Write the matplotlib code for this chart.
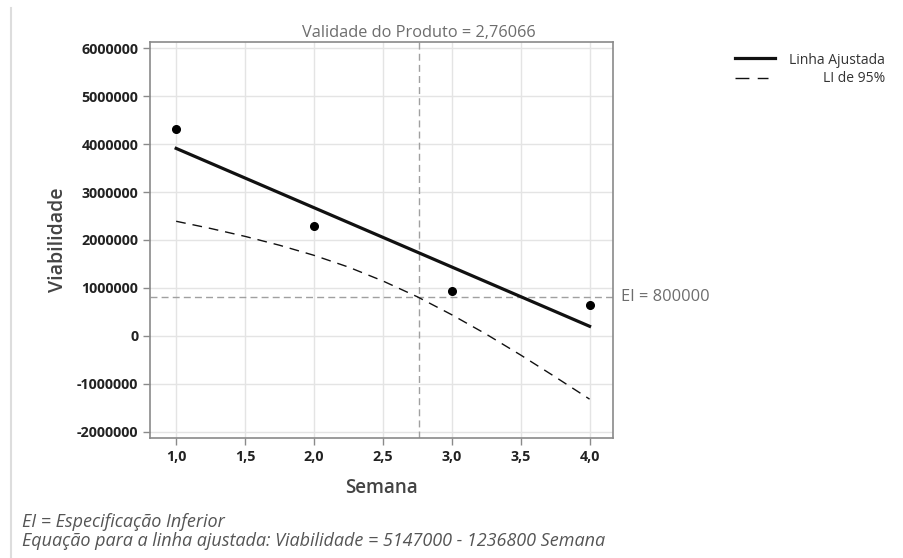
import numpy as np
import matplotlib.pyplot as plt
from matplotlib.lines import Line2D

plt.rcParams['font.family'] = ['Open Sans', 'DejaVu Sans']

# observed points
semana = [1, 2, 3, 4]
viabilidade = [4307000, 2295000, 932000, 641000]

# fitted line (ends)
fit_x = [1, 4]
fit_y = [3910200, 199800]

# lower 95% bound
li_x = [1.0, 1.25, 1.5, 1.75, 2.0, 2.25, 2.5, 2.75, 3.0, 3.25, 3.5, 3.75, 4.0]
li_y = [2390000, 2240000, 2075000, 1890000, 1680000, 1435000, 1145000,
        815000, 440000, 35000, -400000, -855000, -1320000]

validade = 2.76066
ei = 800000

xticks = [1.0, 1.5, 2.0, 2.5, 3.0, 3.5, 4.0]
yticks = [-2000000, -1000000, 0, 1000000, 2000000, 3000000, 4000000, 5000000, 6000000]

gray = '#6d6d6d'
fig = plt.figure(figsize=(9.04, 5.58), dpi=100)
ax = fig.add_axes([0.1659, 0.2151, 0.5122, 0.7097])

ax.grid(True, color='#e4e4e4', linewidth=1)
ax.set_axisbelow(True)

ax.plot(fit_x, fit_y, color='#111111', linewidth=2.3, zorder=3)
ax.plot(li_x, li_y, color='#111111', linewidth=1, dashes=(7, 5), zorder=3)
ax.plot(semana, viabilidade, 'o', color='black', markersize=5.5, zorder=4)

ax.axvline(validade, color='#a0a0a0', linewidth=1, dashes=(5, 3), zorder=2)
ax.axhline(ei, color='#a0a0a0', linewidth=1, dashes=(5, 3), zorder=2)

ax.set_xlim(0.81, 4.17)
ax.set_ylim(-2130000, 6130000)
ax.set_xticks(xticks)
ax.set_xticklabels([f'{v:.1f}'.replace('.', ',') for v in xticks])
ax.set_yticks(yticks)
ax.set_yticklabels([str(v) for v in yticks])

for s in ax.spines.values():
    s.set_color('#8a8a8a')
    s.set_linewidth(1.2)
ax.tick_params(colors='#8a8a8a', length=5, width=1, labelcolor='#222222', labelsize=10.3)
for lab in ax.get_xticklabels() + ax.get_yticklabels():
    lab.set_fontweight('bold')

ax.set_xlabel('Semana', fontsize=13.5, color='#444444', fontweight='semibold', labelpad=10)
ax.set_ylabel('Viabilidade', fontsize=14, color='#444444', fontweight='semibold', labelpad=6)

ax.text(validade, 6150000, f'Validade do Produto = {validade:.5f}'.replace('.', ','),
        ha='center', va='bottom', fontsize=11.8, color=gray)
ax.text(4.23, ei, f'EI = {ei}', ha='left', va='center', fontsize=11.8, color=gray)

# legend drawn by hand (right-aligned labels)
fig.lines.append(Line2D([735 / 904, 775 / 904], [1 - 58 / 558] * 2, color='#111111',
                        linewidth=2.3, transform=fig.transFigure))
fig.lines.append(Line2D([735 / 904, 768 / 904], [1 - 78 / 558] * 2, color='#111111',
                        linewidth=1, dashes=(10, 6), transform=fig.transFigure))
fig.text(885 / 904, 1 - 60 / 558, 'Linha Ajustada', ha='right', va='center', fontsize=10, color='#333333')
fig.text(885 / 904, 1 - 79 / 558, 'LI de 95%', ha='right', va='center', fontsize=10, color='#333333')

# notes
fig.text(22 / 904, 1 - 522 / 558, 'EI = Especificação Inferior', ha='left', va='center',
         fontsize=13, style='italic', color='#555555')
fig.text(22 / 904, 1 - 541 / 558, 'Equação para a linha ajustada: Viabilidade = 5147000 - 1236800 Semana',
         ha='left', va='center', fontsize=13, style='italic', color='#555555')

# left border of output window
fig.lines.append(Line2D([11 / 904] * 2, [0, 1 - 8 / 558], color='#dddddd', linewidth=1.5,
                        transform=fig.transFigure))

fig.savefig('out.png', dpi=100)
